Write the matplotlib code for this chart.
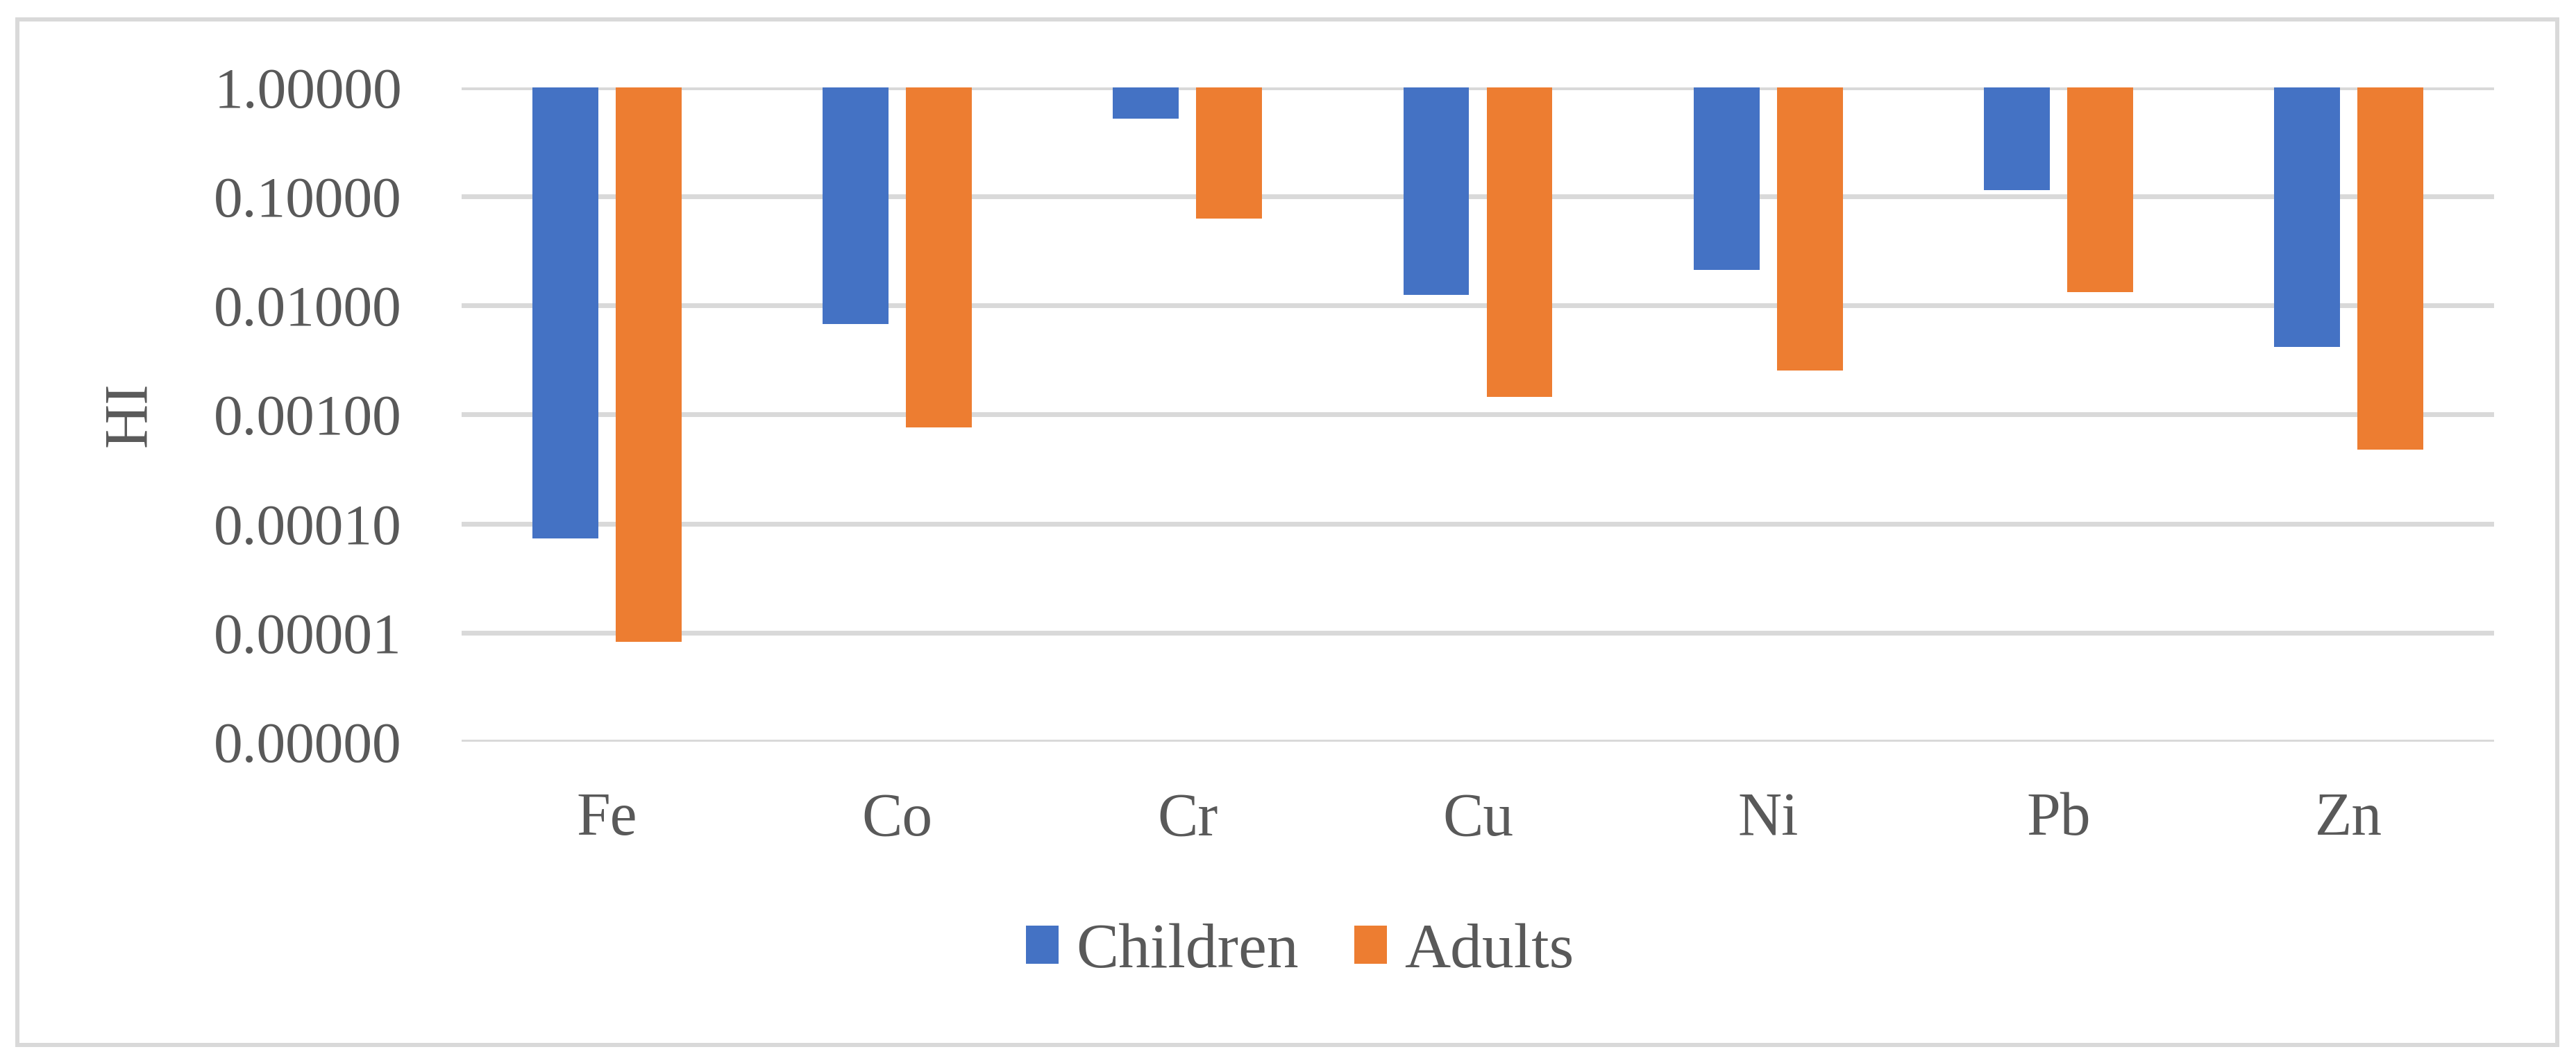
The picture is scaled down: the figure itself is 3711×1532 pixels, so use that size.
import numpy as np
import matplotlib
matplotlib.use('Agg')
import matplotlib.pyplot as plt
from matplotlib.patches import Patch, Rectangle
from matplotlib.ticker import FuncFormatter, NullLocator

# Datos (HI)
metals = ['Fe', 'Co', 'Cr', 'Cu', 'Ni', 'Pb', 'Zn']
children = [7.3e-5, 6.8e-3, 0.516, 0.0126, 0.0213, 0.114, 4.2e-3]
adults = [8.2e-6, 7.6e-4, 0.063, 1.46e-3, 2.55e-3, 0.0133, 4.8e-4]
y_ticks = [1e-6, 1e-5, 1e-4, 1e-3, 1e-2, 1e-1, 1.0]

blue = '#4472C4'
orange = '#ED7D31'
grey_txt = '#595959'
grid_col = '#D9D9D9'

plt.rcParams['font.family'] = ['Liberation Serif', 'DejaVu Serif']

W, H = 3711, 1532
dpi = 100
fig = plt.figure(figsize=(W / dpi, H / dpi), dpi=dpi)

# Posicion del area de trazado (en pixeles)
left, right, top, bottom = 665, 3593, 126, 1069
ax = fig.add_axes([left / W, 1 - bottom / H, (right - left) / W, (bottom - top) / H])

x = np.arange(len(metals))
bw = 0.227
off = 0.1434
# Barras colgando desde 1.0 hasta el valor
ax.bar(x - off, 1 - np.array(children), bw, bottom=children, color=blue, zorder=3)
ax.bar(x + off, 1 - np.array(adults), bw, bottom=adults, color=orange, zorder=3)

ax.set_yscale('log')
ax.set_ylim(1e-6, 1.0)
ax.set_xlim(-0.5, len(metals) - 0.5)
ax.set_yticks(y_ticks)
ax.yaxis.set_minor_locator(NullLocator())
ax.yaxis.set_major_formatter(FuncFormatter(lambda v, p: f'{v:.5f}'))
ax.set_xticks(x)
ax.set_xticklabels(metals)

ax.grid(axis='y', color=grid_col, linewidth=5, zorder=0)
ax.set_axisbelow(True)
for s in ax.spines.values():
    s.set_visible(False)
ax.tick_params(axis='both', length=0, colors=grey_txt)
ax.tick_params(axis='y', labelsize=60, pad=62)
ax.tick_params(axis='x', labelsize=63, pad=52)

fig.text(188 / W, 1 - 597 / H, 'HI', rotation=90, ha='center', va='center',
         fontsize=64, color=grey_txt)

handles = [Patch(facecolor=blue, label='Children'), Patch(facecolor=orange, label='Adults')]
leg = fig.legend(handles=handles, loc='center', bbox_to_anchor=(1873 / W, 1 - 1372 / H),
                 ncol=2, frameon=False, fontsize=66, handlelength=0.51, handleheight=0.54,
                 handletextpad=0.28, columnspacing=0.87, borderpad=0)
for t in leg.get_texts():
    t.set_color(grey_txt)

# Marco del area del grafico
fig.patches.append(Rectangle((25 / W, 1 - 1506 / H), (3684 - 25) / W, (1506 - 28) / H,
                             transform=fig.transFigure, fill=False, edgecolor=grid_col,
                             linewidth=4.3, zorder=0))

fig.savefig('out.png', dpi=dpi, facecolor='white')
